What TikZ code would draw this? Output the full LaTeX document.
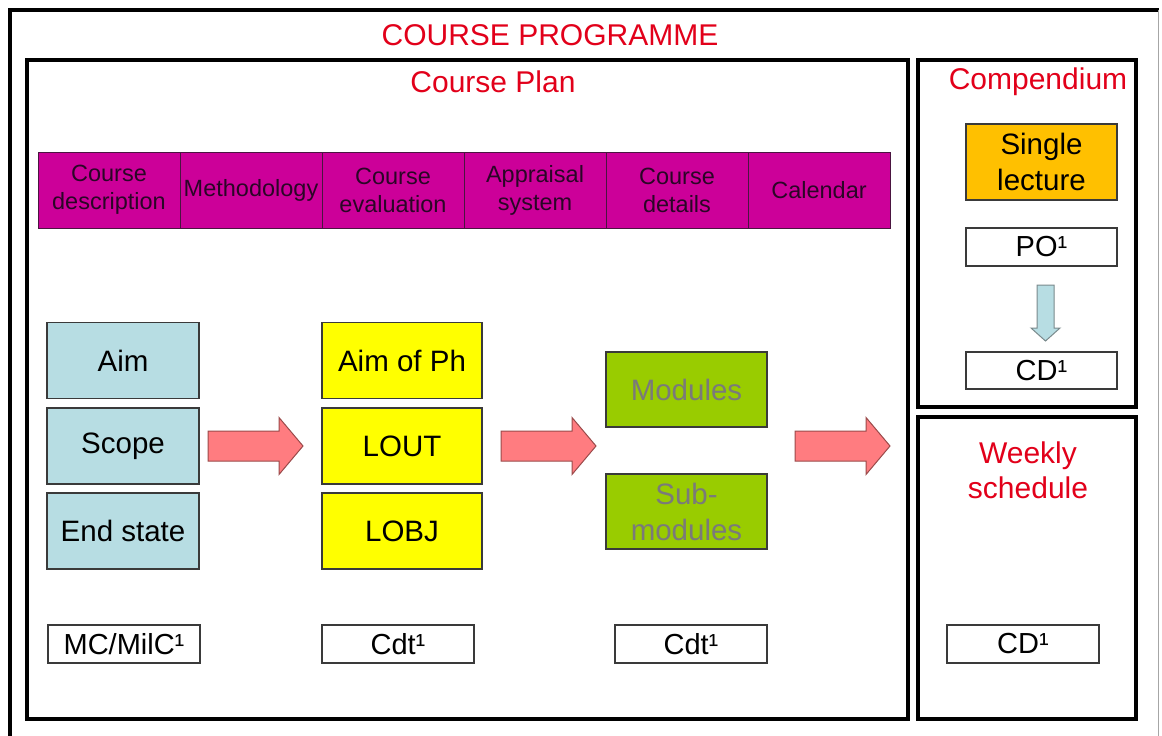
\documentclass[tikz,border=0pt]{standalone}
\usepackage{fontspec}
\setmainfont{Liberation Sans}
\usetikzlibrary{calc}
\definecolor{titlered}{HTML}{E2001A}
\definecolor{magentafill}{HTML}{CC0099}
\definecolor{magentaline}{HTML}{4A1540}
\definecolor{magentatext}{HTML}{2A0626}
\definecolor{bluefill}{HTML}{B7DDE3}
\definecolor{yellowfill}{HTML}{FFFF00}
\definecolor{greenfill}{HTML}{99CC00}
\definecolor{greentext}{HTML}{7A7A7A}
\definecolor{orangefill}{HTML}{FFC000}
\definecolor{arrowfill}{HTML}{FF7C80}
\definecolor{arrowline}{HTML}{9A4A4A}
\definecolor{boxline}{HTML}{3A3A3A}
\definecolor{downfill}{HTML}{B7DDE3}
\definecolor{downline}{HTML}{7A8A8C}
\newcommand{\blockarrow}[2]{%
  \path let \p1=(#1), \p2=(#2) in
    [draw=arrowline, fill=arrowfill, line width=1pt, line join=miter]
    (\x1,\y1+15pt) -- (\x2-24pt,\y1+15pt) -- (\x2-24pt,\y1+28.5pt) -- (\x2,\y1)
    -- (\x2-24pt,\y1-28.5pt) -- (\x2-24pt,\y1-15pt) -- (\x1,\y1-15pt) -- cycle;}
\begin{document}
\begin{tikzpicture}[x=1pt,y=-1pt,
  every node/.style={inner sep=0pt, outer sep=0pt, align=center},
  frame/.style={draw=black, line width=4.5pt},
  titletext/.style={text=titlered, font=\fontsize{30}{35}\selectfont},
  box/.style={draw=boxline, line width=1.3pt, font=\fontsize{29.5}{36}\selectfont},
  bluebox/.style={box, fill=bluefill, minimum width=152pt, minimum height=76pt},
  yellowbox/.style={box, fill=yellowfill, minimum width=160pt, minimum height=76pt},
  greenbox/.style={box, fill=greenfill, text=greentext, minimum width=161pt, minimum height=75pt},
  labelbox/.style={box, fill=white, minimum width=152pt, minimum height=38pt, font=\fontsize{29}{34}\selectfont},
  cell/.style={draw=magentaline, line width=1pt, fill=magentafill, text=magentatext,
    minimum width=142pt, minimum height=76pt, font=\fontsize{23.5}{28}\selectfont}]
\useasboundingbox (0,0) rectangle (1162,736);
\fill[white] (0,0) rectangle (1162,736);
% outer frame
\draw[black, line width=4.5pt] (10,736) -- (10,10) -- (1159,10);
\draw[gray!70, line width=1pt] (1158,10) -- (1158,736);
\node[titletext] (prog) at (550,35) {COURSE PROGRAMME};
% frames
\draw[frame] (27,60) rectangle (908,719);
\draw[frame] (918,60) rectangle (1136,407);
\draw[frame] (918,417) rectangle (1136,719);
\node[titletext] (plan) at (493,82) {Course Plan};
\node[titletext] (comp) at (1038,82) {Compendium};
\node[titletext] (weekly) at (1028,470) {Weekly\\schedule};
% magenta strip
\node[cell] (c1) at (109,190) {Course\\description};
\node[cell] (c2) at (251,190) {Methodology};
\node[cell] (c3) at (393,190) {Course\\evaluation};
\node[cell] (c4) at (535,190) {Appraisal\\system};
\node[cell] (c5) at (677,190) {Course\\details};
\node[cell] (c6) at (819,190) {Calendar};
% columns
\node[bluebox] (aim) at (123,360.5) {Aim};
\node[bluebox] (scope) at (123,446) {Scope};
\node[bluebox] (end) at (123,531) {End state};
\node[yellowbox] (aimph) at (402,360.5) {Aim of Ph};
\node[yellowbox] (lout) at (402,446) {LOUT};
\node[yellowbox] (lobj) at (402,531) {LOBJ};
\node[greenbox] (mod) at (686.5,389.5) {Modules};
\node[greenbox] (submod) at (686.5,511.5) {Sub-\\modules};
% compendium
\node[box, fill=orangefill, minimum width=151pt, minimum height=76pt] (single) at (1041.5,162) {Single\\lecture};
\node[labelbox, minimum width=151pt] (po) at (1041.5,247) {PO¹};
\node[labelbox, minimum width=151pt, minimum height=37pt] (cdA) at (1041.5,370.5) {CD¹};
% bottom labels
\node[labelbox] (mc) at (124,644) {MC/MilC¹};
\node[labelbox] (cdt1) at (398,644) {Cdt¹};
\node[labelbox] (cdt2) at (691,644) {Cdt¹};
\node[labelbox] (cdB) at (1023,644) {CD¹};
% block arrows
\coordinate (a1s) at ($(scope.east)+(9,0)$);
\coordinate (a1e) at ($(lout.west)+(-19,0)$);
\coordinate (a2s) at ($(lout.east)+(19,0)$);
\coordinate (a2e) at ($(lout.east)+(114,0)$);
\coordinate (a3s) at ($(lout.east)+(313,0)$);
\coordinate (a3e) at ($(lout.east)+(408,0)$);
\blockarrow{a1s}{a1e}
\blockarrow{a2s}{a2e}
\blockarrow{a3s}{a3e}
% down arrow
\coordinate (ds) at ($(po.south)+(4,19)$);
\coordinate (de) at ($(cdA.north)+(4,-11)$);
\path let \p1=(ds), \p2=(de) in
  [draw=downline, fill=downfill, line width=1pt]
  (\x1-8.5pt,\y1) -- (\x1+8.5pt,\y1) -- (\x1+8.5pt,\y2+13pt) -- (\x1+14.5pt,\y2+13pt)
  -- (\x1,\y2) -- (\x1-14.5pt,\y2+13pt) -- (\x1-8.5pt,\y2+13pt) -- cycle;
\end{tikzpicture}
\end{document}
